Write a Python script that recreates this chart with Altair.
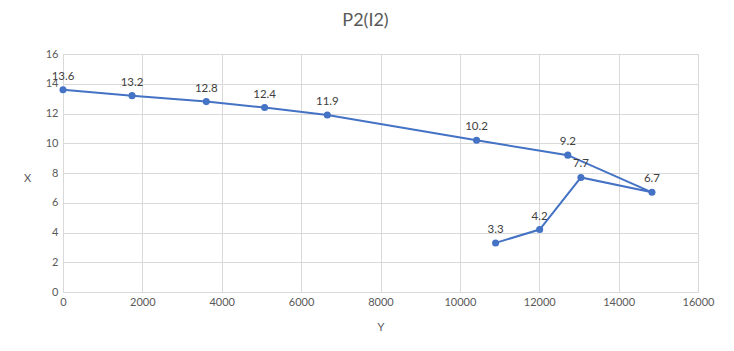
import altair as alt
import pandas as pd

xs = [0, 1740, 3610, 5080, 6660, 10420, 12720, 14840, 13050, 12010, 10900]
ys = [13.6, 13.2, 12.8, 12.4, 11.9, 10.2, 9.2, 6.7, 7.7, 4.2, 3.3]
labels = ["13.6", "13.2", "12.8", "12.4", "11.9", "10.2", "9.2", "6.7", "7.7", "4.2", "3.3"]

df = pd.DataFrame({"Y": xs, "X": ys, "lab": labels, "ord": list(range(len(xs)))})

FONT = "Lato"
BLUE = "#4472C4"

xenc = alt.X("Y:Q", scale=alt.Scale(domain=[0, 16000], nice=False),
             axis=alt.Axis(title="Y", values=list(range(0, 16001, 2000)), format="d",
                           grid=True, gridColor="#d9d9d9", domain=True, domainColor="#d9d9d9",
                           ticks=False, labelPadding=4, titlePadding=14,
                           labelFlush=False, labelOverlap=False,
                           labelColor="#595959", titleColor="#595959",
                           labelFontSize=11, titleFontSize=11, titleFontWeight="normal",
                           labelFont=FONT, titleFont=FONT))
yenc = alt.Y("X:Q", scale=alt.Scale(domain=[0, 16], nice=False),
             axis=alt.Axis(title="X", values=list(range(0, 17, 2)),
                           grid=True, gridColor="#d9d9d9", domain=False,
                           ticks=False, labelPadding=5,
                           labelFlush=False, labelOverlap=False,
                           titleAngle=0, titleX=-36, titleY=124,
                           titleAlign="center", titleBaseline="middle",
                           labelColor="#595959", titleColor="#595959",
                           labelFontSize=11, titleFontSize=11, titleFontWeight="normal",
                           labelFont=FONT, titleFont=FONT))

base = alt.Chart(df).encode(x=xenc, y=yenc)

line = base.mark_line(color=BLUE, strokeWidth=2).encode(order="ord:Q")
pts = base.mark_circle(color=BLUE, size=50, opacity=1)
txt = base.mark_text(dy=-13, fontSize=11.5, color="#404040", font=FONT).encode(text="lab:N")

chart = alt.layer(line, pts, txt).properties(
    width=635, height=238,
    title=alt.TitleParams("P2(I2)", fontSize=18, color="#595959", font=FONT,
                          fontWeight="normal", anchor="middle", dx=-15, offset=18),
    padding={"left": 63, "top": 54, "right": 36, "bottom": 59},
    autosize=alt.AutoSizeParams(type="none"),
).configure_view(stroke=None).configure(background="white")

chart.save("out.html", embed_options={"renderer": "svg", "actions": False})
